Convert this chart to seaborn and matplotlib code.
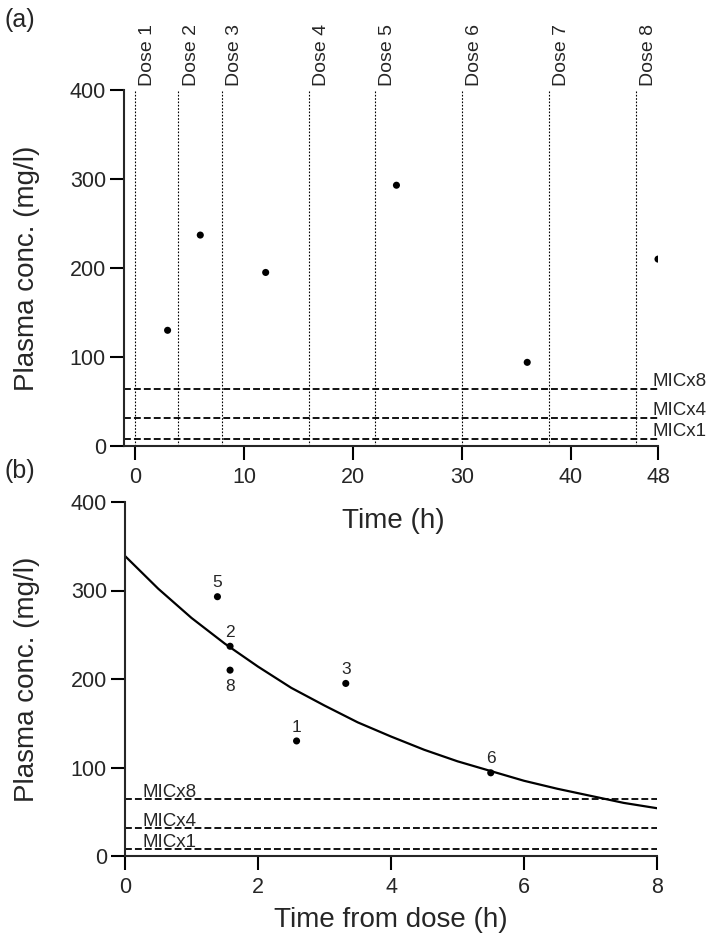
import matplotlib
matplotlib.use("Agg")
import matplotlib.pyplot as plt
import seaborn as sns
import pandas as pd

# ---------------- data ----------------
dose_times = [0, 4, 8, 16, 22, 30, 38, 46]
dose_names = ["Dose 1", "Dose 2", "Dose 3", "Dose 4", "Dose 5", "Dose 6", "Dose 7", "Dose 8"]

sample_times = [3, 6, 12, 24, 36, 48]
sample_conc = [130, 237, 195, 293, 94, 210]
sample_dose = ["1", "2", "3", "5", "6", "8"]
time_from_dose = [2.58, 1.58, 3.32, 1.39, 5.5, 1.58]
label_side = ["above", "above", "above", "above", "above", "below"]

mic_values = [8, 32, 64]
mic_names = ["MICx1", "MICx4", "MICx8"]

curve_time = [0, 0.5, 1, 1.5, 2, 2.5, 3, 3.5, 4, 4.5, 5, 5.5, 6, 6.5, 7, 7.5, 8]
curve_conc = [339, 302, 269, 240, 214, 190, 170, 151, 135, 120, 107, 96, 85, 76, 68, 60, 54]

top_xticks = [0, 10, 20, 30, 40, 48]
bottom_xticks = [0, 2, 4, 6, 8]
yticks = [0, 100, 200, 300, 400]

# ---------------- style ----------------
sns.set_style("ticks")
plt.rcParams["font.family"] = ["Liberation Sans", "DejaVu Sans"]
plt.rcParams["axes.linewidth"] = 1.5

samples = pd.DataFrame({"time": sample_times, "conc": sample_conc,
                        "tfd": time_from_dose, "dose": sample_dose, "side": label_side})
curve = pd.DataFrame({"t": curve_time, "c": curve_conc})

W, H = 710, 940
fig = plt.figure(figsize=(W / 100, H / 100), dpi=100)
ax2 = fig.add_axes([125 / W, 1 - 856 / H, 532 / W, 354 / H])
ax1 = fig.add_axes([124 / W, 1 - 446 / H, 534 / W, 356 / H])
ax2.patch.set_alpha(0)
ax1.patch.set_alpha(0)

mic_dash = (0, (3.8, 1.7))

for ax, ycen in ((ax1, 268), (ax2, 679)):
    for s in ("top", "right"):
        ax.spines[s].set_visible(False)
    ax.tick_params(axis="both", length=10, width=1.5, labelsize=15.5, color="black")
    ax.tick_params(axis="x", pad=5)
    ax.tick_params(axis="y", pad=3)
    ax.set_ylim(0, 400)
    ax.set_yticks(yticks)
    ax.set_ylabel("Plasma conc. (mg/l)", fontsize=20)
    ax.yaxis.set_label_coords(40 / W, 1 - ycen / H, transform=fig.transFigure)
    for v in mic_values:
        ax.axhline(v, color="black", lw=1.3, ls=mic_dash, zorder=1)

# ---------------- panel (a) ----------------
ax1.set_xlim(-1, 48)
ax1.set_xticks(top_xticks)
ax1.vlines(dose_times, 0, 400, colors="black", linestyles=(0, (1.5, 1.5)), lw=0.8, zorder=1)
for t, name in zip(dose_times, dose_names):
    ax1.annotate(name, (t, 400), xytext=(3, 3), textcoords="offset points",
                 rotation=90, ha="left", va="bottom", fontsize=14, annotation_clip=False)
sns.scatterplot(data=samples, x="time", y="conc", color="black", s=26,
                edgecolor="none", ax=ax1, zorder=3, legend=False)
for v, name in zip(mic_values, mic_names):
    ax1.annotate(name, (47.5, v), xytext=(0, 2), textcoords="offset points",
                 fontsize=13.5, ha="left", va="baseline", annotation_clip=False)
ax1.set_xlabel("Time (h)", fontsize=20)
ax1.xaxis.set_label_coords(393 / W, 1 - 508 / H, transform=fig.transFigure)

# ---------------- panel (b) ----------------
ax2.set_xlim(0, 8)
ax2.set_xticks(bottom_xticks)
sns.lineplot(data=curve, x="t", y="c", color="black", lw=1.6, ax=ax2, zorder=2)
sns.scatterplot(data=samples, x="tfd", y="conc", color="black", s=26,
                edgecolor="none", ax=ax2, zorder=3, legend=False)
for _, r in samples.iterrows():
    dy = 10 if r["side"] == "above" else -12
    ax2.annotate(r["dose"], (r["tfd"], r["conc"]), xytext=(0, dy), textcoords="offset points",
                 ha="center", va="center", fontsize=12.5)
for v, name in zip(mic_values, mic_names):
    ax2.annotate(name, (0.27, v), xytext=(0, 1.5), textcoords="offset points",
                 fontsize=13.5, ha="left", va="baseline")
ax2.set_xlabel("Time from dose (h)", fontsize=20)
ax2.xaxis.set_label_coords(391 / W, 1 - 907 / H, transform=fig.transFigure)

fig.text(4 / W, 1 - 8 / H, "(a)", fontsize=18, ha="left", va="top")
fig.text(4 / W, 1 - 459 / H, "(b)", fontsize=18, ha="left", va="top")

fig.savefig("out.png", dpi=100)
